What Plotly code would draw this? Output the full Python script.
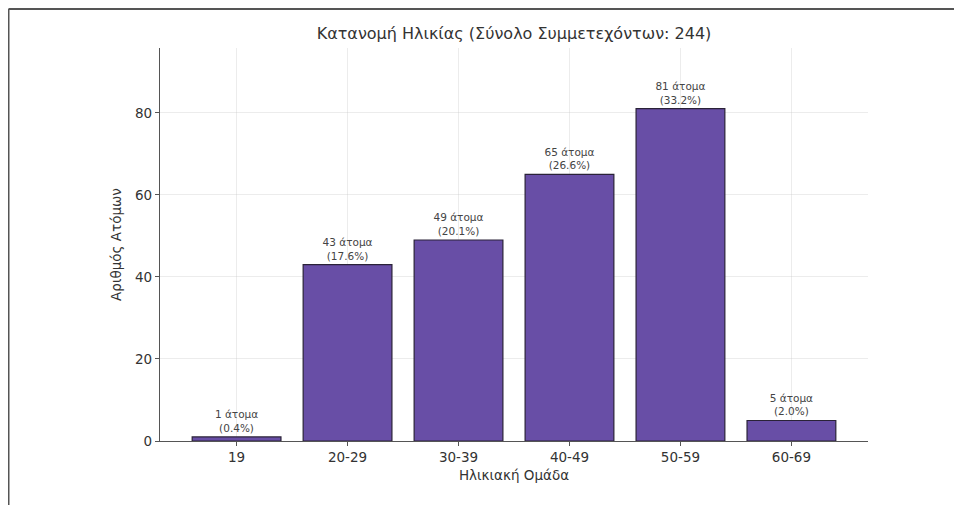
import plotly.graph_objects as go

categories = ["19", "20-29", "30-39", "40-49", "50-59", "60-69"]
counts = [1, 43, 49, 65, 81, 5]
total = 244
y_ticks = [0, 20, 40, 60, 80]

labels = [f"{c} άτομα<br>({c / total * 100:.1f}%)" for c in counts]

# page body has an 8px margin, so the figure is offset by 8px
OFF = 8
W, H = 962 - OFF, 505 - OFF
L, R, T, B = 160 - OFF, 868 - OFF, 48 - OFF, 441 - OFF

fig = go.Figure()
fig.add_trace(go.Bar(
    x=categories, y=counts, width=0.8,
    marker=dict(color="#684ea6", line=dict(color="#2a2238", width=1.2)),
    text=labels, textposition="outside", cliponaxis=False,
    textfont=dict(family="DejaVu Sans", size=10.5, color="#444444"),
    hoverinfo="skip",
))

font = "DejaVu Sans"
fig.update_layout(
    width=W, height=H,
    margin=dict(l=L, r=W - R, t=T, b=H - B),
    paper_bgcolor="white", plot_bgcolor="white",
    showlegend=False,
    bargap=0.2,
    title=dict(text="Κατανομή Ηλικίας (Σύνολο Συμμετεχόντων: 244)",
               x=(L + R) / 2 / W, xanchor="center", y=1 - (33 - OFF) / H, yanchor="middle",
               font=dict(family=font, size=16, color="#333333")),
    font=dict(family=font),
)
fig.update_xaxes(
    range=[-0.69, 5.69], showline=True, linecolor="#555555", linewidth=1.2,
    ticks="outside", ticklen=4, tickcolor="#555555",
    showgrid=True, gridcolor="rgba(200,200,200,0.35)", gridwidth=1,
    tickfont=dict(family=font, size=13.5, color="#333333"),
    title=dict(text="Ηλικιακή Ομάδα", font=dict(family=font, size=13.5, color="#333333"), standoff=6),
    layer="above traces", zeroline=False,
)
fig.update_yaxes(
    range=[0, 95.8], tickvals=y_ticks, showline=True, linecolor="#555555", linewidth=1.2,
    ticks="outside", ticklen=4, tickcolor="#555555",
    showgrid=True, gridcolor="rgba(200,200,200,0.35)", gridwidth=1,
    tickfont=dict(family=font, size=13.5, color="#333333"),
    title=dict(text="Αριθμός Ατόμων", font=dict(family=font, size=13.5, color="#333333"), standoff=10),
    layer="above traces", zeroline=False,
)

# frame of the original screenshot (top and left edges)
def px(xp):
    return (xp - L) / (R - L)

def py(yp):
    return (B - yp) / (B - T)

fx, fy = 0.5, 1
fig.add_shape(type="line", xref="paper", yref="paper",
              x0=px(fx), x1=px(W + 5), y0=py(fy), y1=py(fy),
              line=dict(color="#555555", width=2))
fig.add_shape(type="line", xref="paper", yref="paper",
              x0=px(fx), x1=px(fx), y0=py(fy), y1=py(H + 5),
              line=dict(color="#555555", width=2))

fig.write_html("out.html")
